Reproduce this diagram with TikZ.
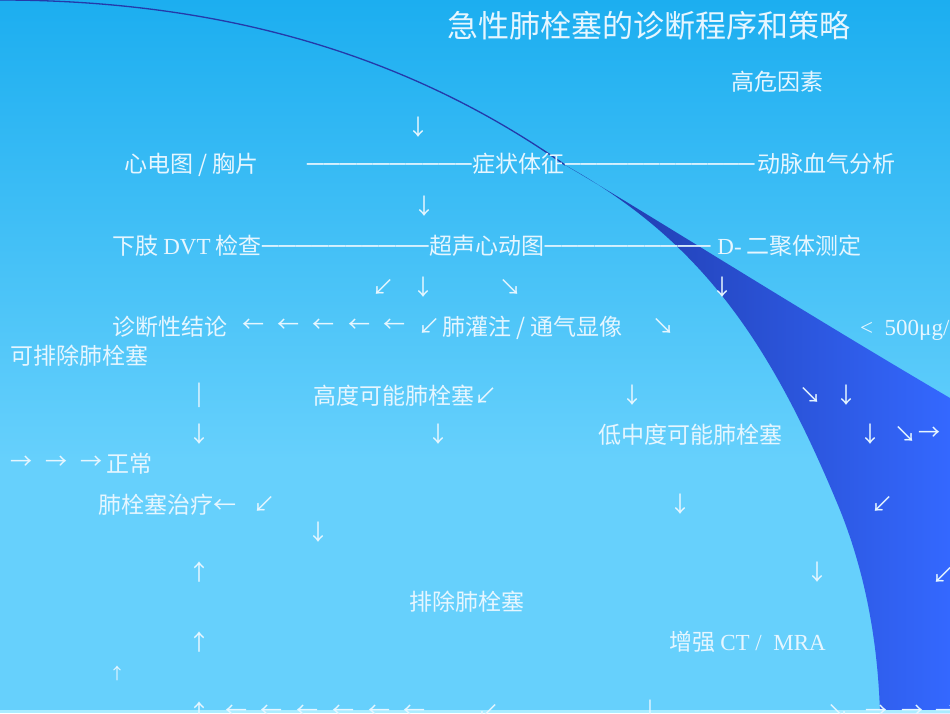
\documentclass[tikz,border=0pt]{standalone}
\usepackage{fontspec}
\usepackage{graphicx}
\setmainfont{Liberation Serif}
\newfontfamily\cjk{Noto Sans CJK SC}
\usetikzlibrary{positioning}
\definecolor{slidetop}{RGB}{28,174,240}
\definecolor{slidebot}{RGB}{102,208,252}
\definecolor{banddark}{RGB}{30,56,165}
\definecolor{bandlight}{RGB}{52,104,255}
\definecolor{edgeblue}{RGB}{36,58,170}
\definecolor{stripcol}{RGB}{170,236,255}
\definecolor{slidetext}{RGB}{230,246,255}
\newcommand{\lat}[1]{{\rmfamily #1}}
\newcommand{\dashrun}[2]{\resizebox{#1pt}{1.5\height}{\rmfamily\foreach\i in {1,...,#2}{–\kern0.015em}}}

\begin{document}
\begin{tikzpicture}[x=1pt,y=-1pt,
    txt/.style={text=slidetext,font=\cjk\fontsize{23}{28}\selectfont,inner sep=0pt,anchor=base west},
    arr/.style={txt,anchor=center,font=\cjk\fontsize{22}{26}\selectfont},
    small/.style={arr,font=\cjk\fontsize{16}{20}\selectfont}]
    \useasboundingbox (0,0) rectangle (950,713);
    \clip (0,0) rectangle (950,713);
    \fill[slidebot] (0,0) rectangle (950,713);
    \shade[top color=slidetop,bottom color=slidebot] (0,0) rectangle (950,460);
    \shade[left color=banddark,right color=bandlight] (565,165)
        .. controls (700,240) and (770,340) .. (840,510)
        .. controls (868,580) and (878,650) .. (880,713)
        -- (950,713) -- (950,398)
        .. controls (800,310) and (650,215) .. (565,165) -- cycle;
    \draw[edgeblue,line width=1.3pt] (0,0) .. controls (250,0) and (430,70) .. (565,165);
    \fill[stripcol] (0,710) rectangle (950,713);

    \node[txt,font=\cjk\fontsize{31}{36}\selectfont] (title) at (447,37) {急性肺栓塞的诊断程序和策略};
    \node[txt] (risk) at (731,90) {高危因素};
    \node[arr] (d1) at (418,127) {↓};

    \node[txt] (ecg) at (124,172) {心电图 / 胸片};
    \node[txt] (dashA) at (307,172) {\dashrun{165}{10}};
    \node[txt,base right=0pt of dashA] (sym) {症状体征};
    \node[txt,base right=0pt of sym] (dashB) {\dashrun{190}{12}};
    \node[txt,base right=2pt of dashB] (abg) {动脉血气分析};
    \node[arr] (d2) at (424,206) {↓};

    \node[txt] (dvt) at (112,254) {下肢 \lat{DVT} 检查};
    \node[txt,base right=0pt of dvt] (dashC) {\dashrun{167}{10}};
    \node[txt,base right=0pt of dashC] (echo) {超声心动图};
    \node[txt,base right=0pt of echo] (dashD) {\dashrun{166}{10}};
    \node[txt,base right=6pt of dashD] (ddimer) {\lat{D-} 二聚体测定};

    \node[arr] (sw1) at (383,287) {↙};
    \node[arr] (d3) at (423,287) {↓};
    \node[arr] (se1) at (510,287) {↘};
    \node[arr] (d4) at (722,287) {↓};

    \node[txt] (concl) at (112,335) {诊断性结论};
    \node[arr] (l1) at (253,326) {←};
    \node[arr] (l2) at (288,326) {←};
    \node[arr] (l3) at (323,326) {←};
    \node[arr] (l4) at (359,326) {←};
    \node[arr] (l5) at (394,326) {←};
    \node[arr] (sw2) at (429,326) {↙};
    \node[txt] (vq) at (442,335) {肺灌注 / 通气显像};
    \node[arr] (se2) at (663,326) {↘};
    \node[txt] (lt) at (860,335) {\lat{<~~500μg/}};
    \node[txt] (excl) at (10,364) {可排除肺栓塞};

    \node[arr] (bar1) at (199,395) {|};
    \node[txt] (high) at (313,404) {高度可能肺栓塞↙};
    \node[arr] (d5) at (632,395) {↓};
    \node[arr] (se3) at (810,395) {↘};
    \node[arr] (d6) at (846,395) {↓};

    \node[arr] (d7) at (199,434) {↓};
    \node[arr] (d8) at (438,434) {↓};
    \node[txt] (low) at (598,443) {低中度可能肺栓塞};
    \node[arr] (d9) at (870,434) {↓};
    \node[arr] (se4) at (905,434) {↘};
    \node[arr] (r1) at (929,434) {→};

    \node[arr] (r2) at (21,463) {→};
    \node[arr] (r3) at (56,463) {→};
    \node[arr] (r4) at (91,463) {→};
    \node[txt] (normal) at (106,472) {正常};

    \node[txt] (treat) at (98,513) {肺栓塞治疗←};
    \node[arr] (sw3) at (264,504) {↙};
    \node[arr] (d10) at (680,504) {↓};
    \node[arr] (sw4) at (882,504) {↙};
    \node[arr] (d11) at (318,532) {↓};

    \node[arr] (u1) at (199,572) {↑};
    \node[arr] (d12) at (817,572) {↓};
    \node[arr] (sw5) at (943,575) {↙};
    \node[txt] (rule) at (409,610) {排除肺栓塞};
    \node[arr] (u2) at (199,642) {↑};
    \node[txt] (ct) at (669,650) {增强 \lat{CT /~~MRA}};
    \node[small] (u3) at (117,673) {↑};

    \node[arr] (u4) at (199,712) {↑};
    \node[arr] (l6) at (236,712) {←};
    \node[arr] (l7) at (271,712) {←};
    \node[arr] (l8) at (307,712) {←};
    \node[arr] (l9) at (343,712) {←};
    \node[arr] (l10) at (379,712) {←};
    \node[arr] (l11) at (414,712) {←};
    \node[arr] (sw6) at (488,712) {↙};
    \node[arr] (bar2) at (650,712) {|};
    \node[arr] (se5) at (838,712) {↘};
    \node[arr] (r5) at (876,712) {→};
    \node[arr] (r6) at (912,712) {→};
    \node[arr] (r7) at (946,712) {→};
\end{tikzpicture}
\end{document}
